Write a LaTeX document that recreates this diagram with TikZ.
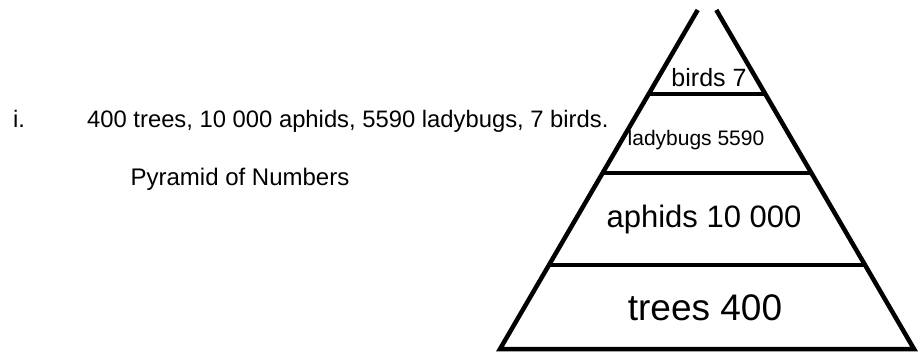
\documentclass[tikz,border=0pt]{standalone}
\usepackage{fontspec}
\setmainfont{Liberation Sans}
\usetikzlibrary{calc}

\tikzset{
  layerline/.style={line width=4.5pt},
  fs/.style={font=\fontsize{#1}{#1}\selectfont, inner sep=0pt, anchor=base}
}

\begin{document}
\begin{tikzpicture}[x=1pt, y=-1pt]

% fix the page to the size of the reference
\useasboundingbox (0,0) rectangle (922,356);

% corners of the pyramid
\coordinate (apex) at (707,-6);
\coordinate (bl) at (500,349);
\coordinate (br) at (914,349);

% the two sides (the tip is cut off) and the base
\draw[layerline] ($(bl)!0.955!(apex)$) -- (bl) -- (br) -- ($(br)!0.955!(apex)$);

% lines between the levels
\draw[layerline] ($(bl)!0.237!(apex)$) -- ($(br)!0.237!(apex)$);
\draw[layerline] ($(bl)!0.496!(apex)$) -- ($(br)!0.496!(apex)$);
\draw[layerline] ($(bl)!0.718!(apex)$) -- ($(br)!0.718!(apex)$);

% labels of the levels
\node[fs=25] (birds) at (709,86) {birds 7};
\node[fs=21] (ladybugs) at (696,145) {ladybugs 5590};
\node[fs=31] (aphids) at (704,227) {aphids 10 000};
\node[fs=37] (trees) at (705,320) {trees 400};

% text on the left
\node[fs=23.8, anchor=base west] (item) at (13,127) {i.};
\node[fs=23.8, anchor=base west] (data) at (87,127) {400 trees, 10 000 aphids, 5590 ladybugs, 7 birds.};
\node[fs=24] (title) at (240,185) {Pyramid of Numbers};

\end{tikzpicture}
\end{document}
